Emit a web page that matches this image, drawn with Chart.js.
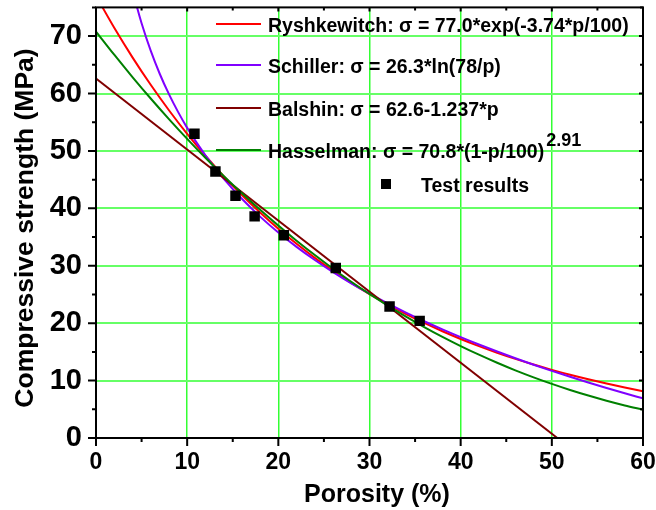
<!DOCTYPE html>
<html>
<head>
<meta charset="utf-8">
<script src="https://cdn.jsdelivr.net/npm/chart.js@4/dist/chart.umd.min.js"></script>
<style>
html,body{margin:0;padding:0;background:#fff;}
#wrap{width:656px;height:510px;position:relative;}
</style>
</head>
<body>
<div id="wrap"><canvas id="c" width="656" height="510"></canvas></div>
<script>
// ---- data ----
const testPorosity = [10.8, 13.1, 15.3, 17.4, 20.6, 26.3, 32.2, 35.5];
const testStrength = [53.0, 46.4, 42.2, 38.6, 35.3, 29.6, 22.9, 20.4];

const curveP = [0,2,4,6,8,10,12,14,16,18,20,22,24,26,28,30,32,34,36,38,40,42,44,46,48,50,52,54,56,58,60];
const ryshkewitch = [77.00,71.45,66.30,61.52,57.09,52.97,49.16,45.62,42.33,39.28,36.45,33.82,31.38,29.12,27.02,25.07,23.27,21.59,20.04,18.59,17.25,16.01,14.85,13.78,12.79,11.87,11.01,10.22,9.48,8.80,8.16];
const hasselman = [70.80,66.76,62.87,59.13,55.55,52.10,48.81,45.65,42.63,39.74,36.99,34.36,31.86,29.48,27.22,25.08,23.05,21.13,19.32,17.61,16.01,14.51,13.10,11.78,10.56,9.42,8.36,7.39,6.49,5.67,4.92];
const schillerP = [4,4.5,5,6,7,8,9,10,12,14,16,18,20,22,24,26,28,30,32,34,36,38,40,42,44,46,48,50,52,54,56,58,60];
const schiller = [78.12,75.02,72.25,67.46,63.40,59.89,56.80,54.02,49.23,45.17,41.66,38.56,35.79,33.29,31.00,28.89,26.94,25.13,23.43,21.84,20.33,18.91,17.56,16.28,15.06,13.89,12.77,11.70,10.66,9.67,8.72,7.79,6.90];
const balshinP = [0, 50.6];
const balshin = [62.6, 0];

const xTicks = [0,10,20,30,40,50,60];
const yTicks = [0,10,20,30,40,50,60,70];

const legendLabels = [
  {text:'Ryshkewitch: σ = 77.0*exp(-3.74*p/100)', color:'#ff0000'},
  {text:'Schiller: σ = 26.3*ln(78/p)', color:'#8000ff'},
  {text:'Balshin: σ = 62.6-1.237*p', color:'#800000'},
  {text:'Hasselman: σ = 70.8*(1-p/100)', sup:'2.91', color:'#008000'}
];
const pointLabel = 'Test results';
const xTitle = 'Porosity (%)';
const yTitle = 'Compressive strength (MPa)';

const FONT = '"Liberation Sans", Arial, Helvetica, sans-serif';

function pts(xs, ys){ return xs.map((x,i)=>({x:x, y:ys[i]})); }
function noPad(s){ s.paddingTop = 0; s.paddingBottom = 0; s.paddingLeft = 0; s.paddingRight = 0; }

const framePlugin = {
  id:'frame',
  afterDatasetsDraw(chart){
    const {ctx, chartArea:a, scales:{x, y}} = chart;
    ctx.save();
    ctx.strokeStyle = '#000';
    ctx.lineWidth = 2;
    ctx.strokeRect(a.left, a.top, a.right - a.left, a.bottom - a.top);
    ctx.lineWidth = 2;
    ctx.beginPath();
    for (let v = 0; v <= 60; v += 5) {
      const px = x.getPixelForValue(v);
      const major = v % 10 === 0;
      ctx.moveTo(px, a.bottom);
      ctx.lineTo(px, a.bottom + (major ? 8 : 4));
      ctx.moveTo(px, a.top);
      ctx.lineTo(px, a.top + (major ? 4 : 3));
    }
    for (let v = 0; v <= 75; v += 5) {
      const py = y.getPixelForValue(v);
      const major = v % 10 === 0;
      ctx.moveTo(a.left, py);
      ctx.lineTo(a.left - (major ? 8 : 4), py);
      ctx.moveTo(a.right, py);
      ctx.lineTo(a.right - (major ? 4 : 3), py);
    }
    ctx.stroke();
    ctx.restore();
  },
  afterDraw(chart){
    const {ctx} = chart;
    ctx.save();
    ctx.fillStyle = '#000';
    // axis titles
    ctx.font = 'bold 25px ' + FONT;
    ctx.textAlign = 'center';
    ctx.textBaseline = 'alphabetic';
    ctx.fillText(xTitle, 377, 502);
    ctx.save();
    ctx.translate(33, 228);
    ctx.rotate(-Math.PI/2);
    ctx.font = 'bold 26.5px ' + FONT;
    ctx.fillText(yTitle, 0, 0);
    ctx.restore();
    // legend
    ctx.textAlign = 'left';
    const lineYs = [24, 65, 108, 150];
    legendLabels.forEach((it, i) => {
      const ly = lineYs[i];
      ctx.strokeStyle = it.color;
      ctx.lineWidth = 2;
      ctx.beginPath();
      ctx.moveTo(216, ly);
      ctx.lineTo(261, ly);
      ctx.stroke();
      ctx.fillStyle = '#000';
      ctx.font = 'bold 19.5px ' + FONT;
      ctx.fillText(it.text, 268, ly + 7.5);
      if (it.sup) {
        const w = ctx.measureText(it.text).width;
        ctx.font = 'bold 18px ' + FONT;
        ctx.fillText(it.sup, 268 + w + 2, ly - 4);
      }
    });
    ctx.fillStyle = '#000';
    ctx.fillRect(386 - 5, 184 - 5, 10, 10);
    ctx.font = 'bold 19.5px ' + FONT;
    ctx.fillText(pointLabel, 421, 184 + 7.5);
    ctx.restore();
  }
};

new Chart(document.getElementById('c'), {
  type: 'scatter',
  data: {
    datasets: [
      {label: pointLabel, data: pts(testPorosity, testStrength), pointStyle:'rect', pointRadius:7.4, pointHoverRadius:7.4,
       backgroundColor:'#000', borderColor:'#000', borderWidth:0, showLine:false},
      {label:'Hasselman', data: pts(curveP, hasselman), showLine:true, borderColor:'#008000', borderWidth:2, pointRadius:0, cubicInterpolationMode:'monotone'},
      {label:'Balshin', data: pts(balshinP, balshin), showLine:true, borderColor:'#800000', borderWidth:2, pointRadius:0},
      {label:'Schiller', data: pts(schillerP, schiller), showLine:true, borderColor:'#8000ff', borderWidth:2, pointRadius:0, cubicInterpolationMode:'monotone'},
      {label:'Ryshkewitch', data: pts(curveP, ryshkewitch), showLine:true, borderColor:'#ff0000', borderWidth:2, pointRadius:0, cubicInterpolationMode:'monotone'}
    ]
  },
  options: {
    responsive:false,
    animation:false,
    layout:{padding:{left:0, top:7, right:13, bottom:0}},
    plugins:{legend:{display:false}, tooltip:{enabled:false}},
    scales:{
      x:{
        type:'linear', min:0, max:60,
        afterFit(s){ s.height = 72; noPad(s); },
        afterBuildTicks(s){ s.ticks = xTicks.map(v=>({value:v})); },
        grid:{color:'#33ff33', lineWidth:1.5, drawTicks:false},
        border:{display:false},
        ticks:{color:'#000', padding:11, font:{family:FONT, size:23, weight:'bold'}}
      },
      y:{
        type:'linear', min:0, max:75,
        afterFit(s){ s.width = 96; noPad(s); },
        afterBuildTicks(s){ s.ticks = yTicks.map(v=>({value:v})); },
        grid:{color:'#66ff66', lineWidth:2, drawTicks:false},
        border:{display:false},
        ticks:{color:'#000', padding:14, font:{family:FONT, size:29, weight:'bold'}}
      }
    }
  },
  plugins:[framePlugin]
});
</script>
</body>
</html>
